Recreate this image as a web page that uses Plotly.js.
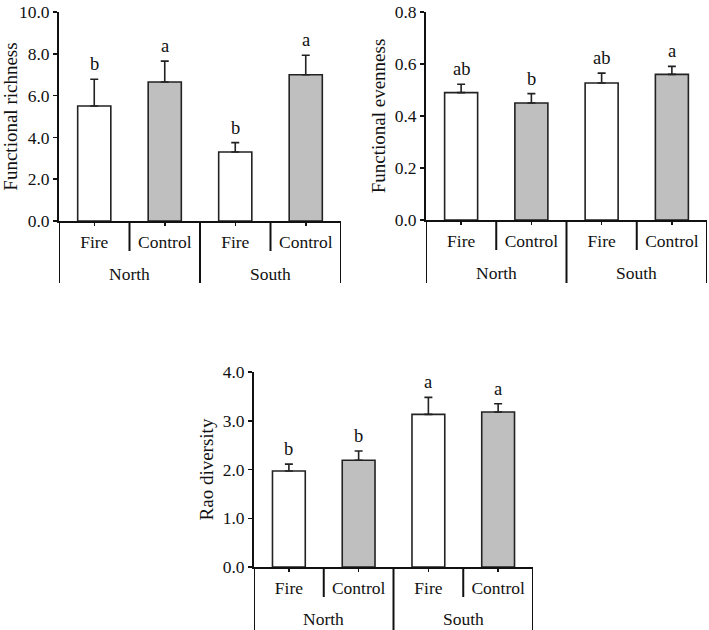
<!DOCTYPE html>
<html>
<head>
<meta charset="utf-8">
<script src="https://cdn.plot.ly/plotly-3.0.1.min.js"></script>
<style>html,body{margin:0;padding:0;background:#fff;}#chart{width:709px;height:630px;}</style>
</head>
<body>
<div id="chart"></div>
<script>
// ---- data ----
const groups = ["North", "North", "South", "South"];
const treatments = ["Fire", "Control", "Fire", "Control"];

const richness = [5.5, 6.65, 3.3, 7.0];
const richnessErr = [1.28, 1.0, 0.45, 0.93];
const richnessLetters = ["b", "a", "b", "a"];
const richnessTicks = [0, 2, 4, 6, 8, 10];

const evenness = [0.49, 0.45, 0.527, 0.56];
const evennessErr = [0.032, 0.036, 0.038, 0.031];
const evennessLetters = ["ab", "b", "ab", "a"];
const evennessTicks = [0, 0.2, 0.4, 0.6, 0.8];

const rao = [1.97, 2.19, 3.13, 3.18];
const raoErr = [0.14, 0.19, 0.35, 0.17];
const raoLetters = ["b", "b", "a", "a"];
const raoTicks = [0, 1, 2, 3, 4];

// ---- layout helpers (pixels -> paper) ----
const W = 709, H = 630;
const FONT = "Liberation Serif, Times New Roman, serif";
const TXT = "#111111";
const fillFor = {Fire: "#ffffff", Control: "#bfbfbf"};

const panels = [
  {id: "", vals: richness, errs: richnessErr, letters: richnessLetters, ticks: richnessTicks,
   title: "Functional richness", x0: 59, x1: 341, yTop: 12, yBot: 221, shortEnd: 251, longEnd: 283, groupY: 274},
  {id: "2", vals: evenness, errs: evennessErr, letters: evennessLetters, ticks: evennessTicks,
   title: "Functional evenness", x0: 426, x1: 707, yTop: 12, yBot: 220, shortEnd: 250, longEnd: 283, groupY: 273},
  {id: "3", vals: rao, errs: raoErr, letters: raoLetters, ticks: raoTicks,
   title: "Rao diversity", x0: 254, x1: 533, yTop: 372, yBot: 567, shortEnd: 597, longEnd: 630, groupY: 619}
];

const xs = treatments.map((_, i) => i);
const data = [];
const layout = {
  width: W, height: H,
  margin: {l: 0, r: 0, t: 0, b: 0},
  paper_bgcolor: "#ffffff", plot_bgcolor: "rgba(0,0,0,0)",
  showlegend: false,
  font: {family: FONT, size: 17.5, color: TXT},
  annotations: [], shapes: []
};

panels.forEach(p => {
  const xa = "x" + p.id, ya = "y" + p.id;
  data.push({
    type: "bar", x: xs, y: p.vals, xaxis: xa, yaxis: ya, width: 0.47,
    marker: {color: treatments.map(t => fillFor[t]), line: {color: "#222", width: 1.6}},
    error_y: {type: "data", array: p.errs, arrayminus: p.errs.map(() => 0), symmetric: false,
              color: "#222", thickness: 1.6, width: 4},
    hoverinfo: "skip"
  });
  const yMax = p.ticks[p.ticks.length - 1];
  layout["xaxis" + p.id] = {
    domain: [p.x0 / W, p.x1 / W], anchor: ya, range: [-0.5, treatments.length - 0.5],
    tickvals: xs, ticktext: treatments, ticks: "outside", ticklen: 3, tickwidth: 1.5, tickcolor: "#111",
    showline: true, linewidth: 2, linecolor: "#111", showgrid: false, zeroline: false,
    ticklabelstandoff: 1, tickfont: {family: FONT, size: 17.5, color: TXT}, fixedrange: true
  };
  layout["yaxis" + p.id] = {
    domain: [1 - p.yBot / H, 1 - p.yTop / H], anchor: xa, range: [0, yMax],
    tickvals: p.ticks, tickformat: ".1f", ticks: "outside", ticklen: 4, tickwidth: 1.5, tickcolor: "#111",
    showline: true, linewidth: 2, linecolor: "#111", showgrid: false, zeroline: false,
    tickfont: {family: FONT, size: 17.5, color: TXT},
    title: {text: p.title, font: {family: FONT, size: 19, color: TXT}, standoff: 4}, fixedrange: true
  };
  // significance letters
  p.letters.forEach((L, i) => {
    layout.annotations.push({
      xref: xa, yref: ya, x: xs[i], y: p.vals[i] + p.errs[i], text: L, showarrow: false,
      yanchor: "bottom", yshift: 3, font: {family: FONT, size: 18.5, color: TXT}
    });
  });
  // group labels
  const uniq = [...new Set(groups)];
  uniq.forEach(g => {
    const idx = xs.filter(i => groups[i] === g);
    const mid = (idx[0] + idx[idx.length - 1]) / 2;
    layout.annotations.push({
      xref: xa, yref: "paper", x: mid, y: 1 - p.groupY / H, text: g, showarrow: false,
      yanchor: "middle", font: {family: FONT, size: 17.5, color: TXT}
    });
  });
  // dividers
  for (let i = 0; i <= treatments.length; i++) {
    const isGroupEdge = i === 0 || i === treatments.length || groups[i] !== groups[i - 1];
    layout.shapes.push({
      type: "line", xref: xa, yref: "paper", x0: i - 0.5, x1: i - 0.5,
      y0: 1 - p.yBot / H, y1: 1 - (isGroupEdge ? p.longEnd : p.shortEnd) / H,
      line: {color: "#111", width: 2}
    });
  }
});

Plotly.newPlot("chart", data, layout, {staticPlot: true, displayModeBar: false});
</script>
</body>
</html>
